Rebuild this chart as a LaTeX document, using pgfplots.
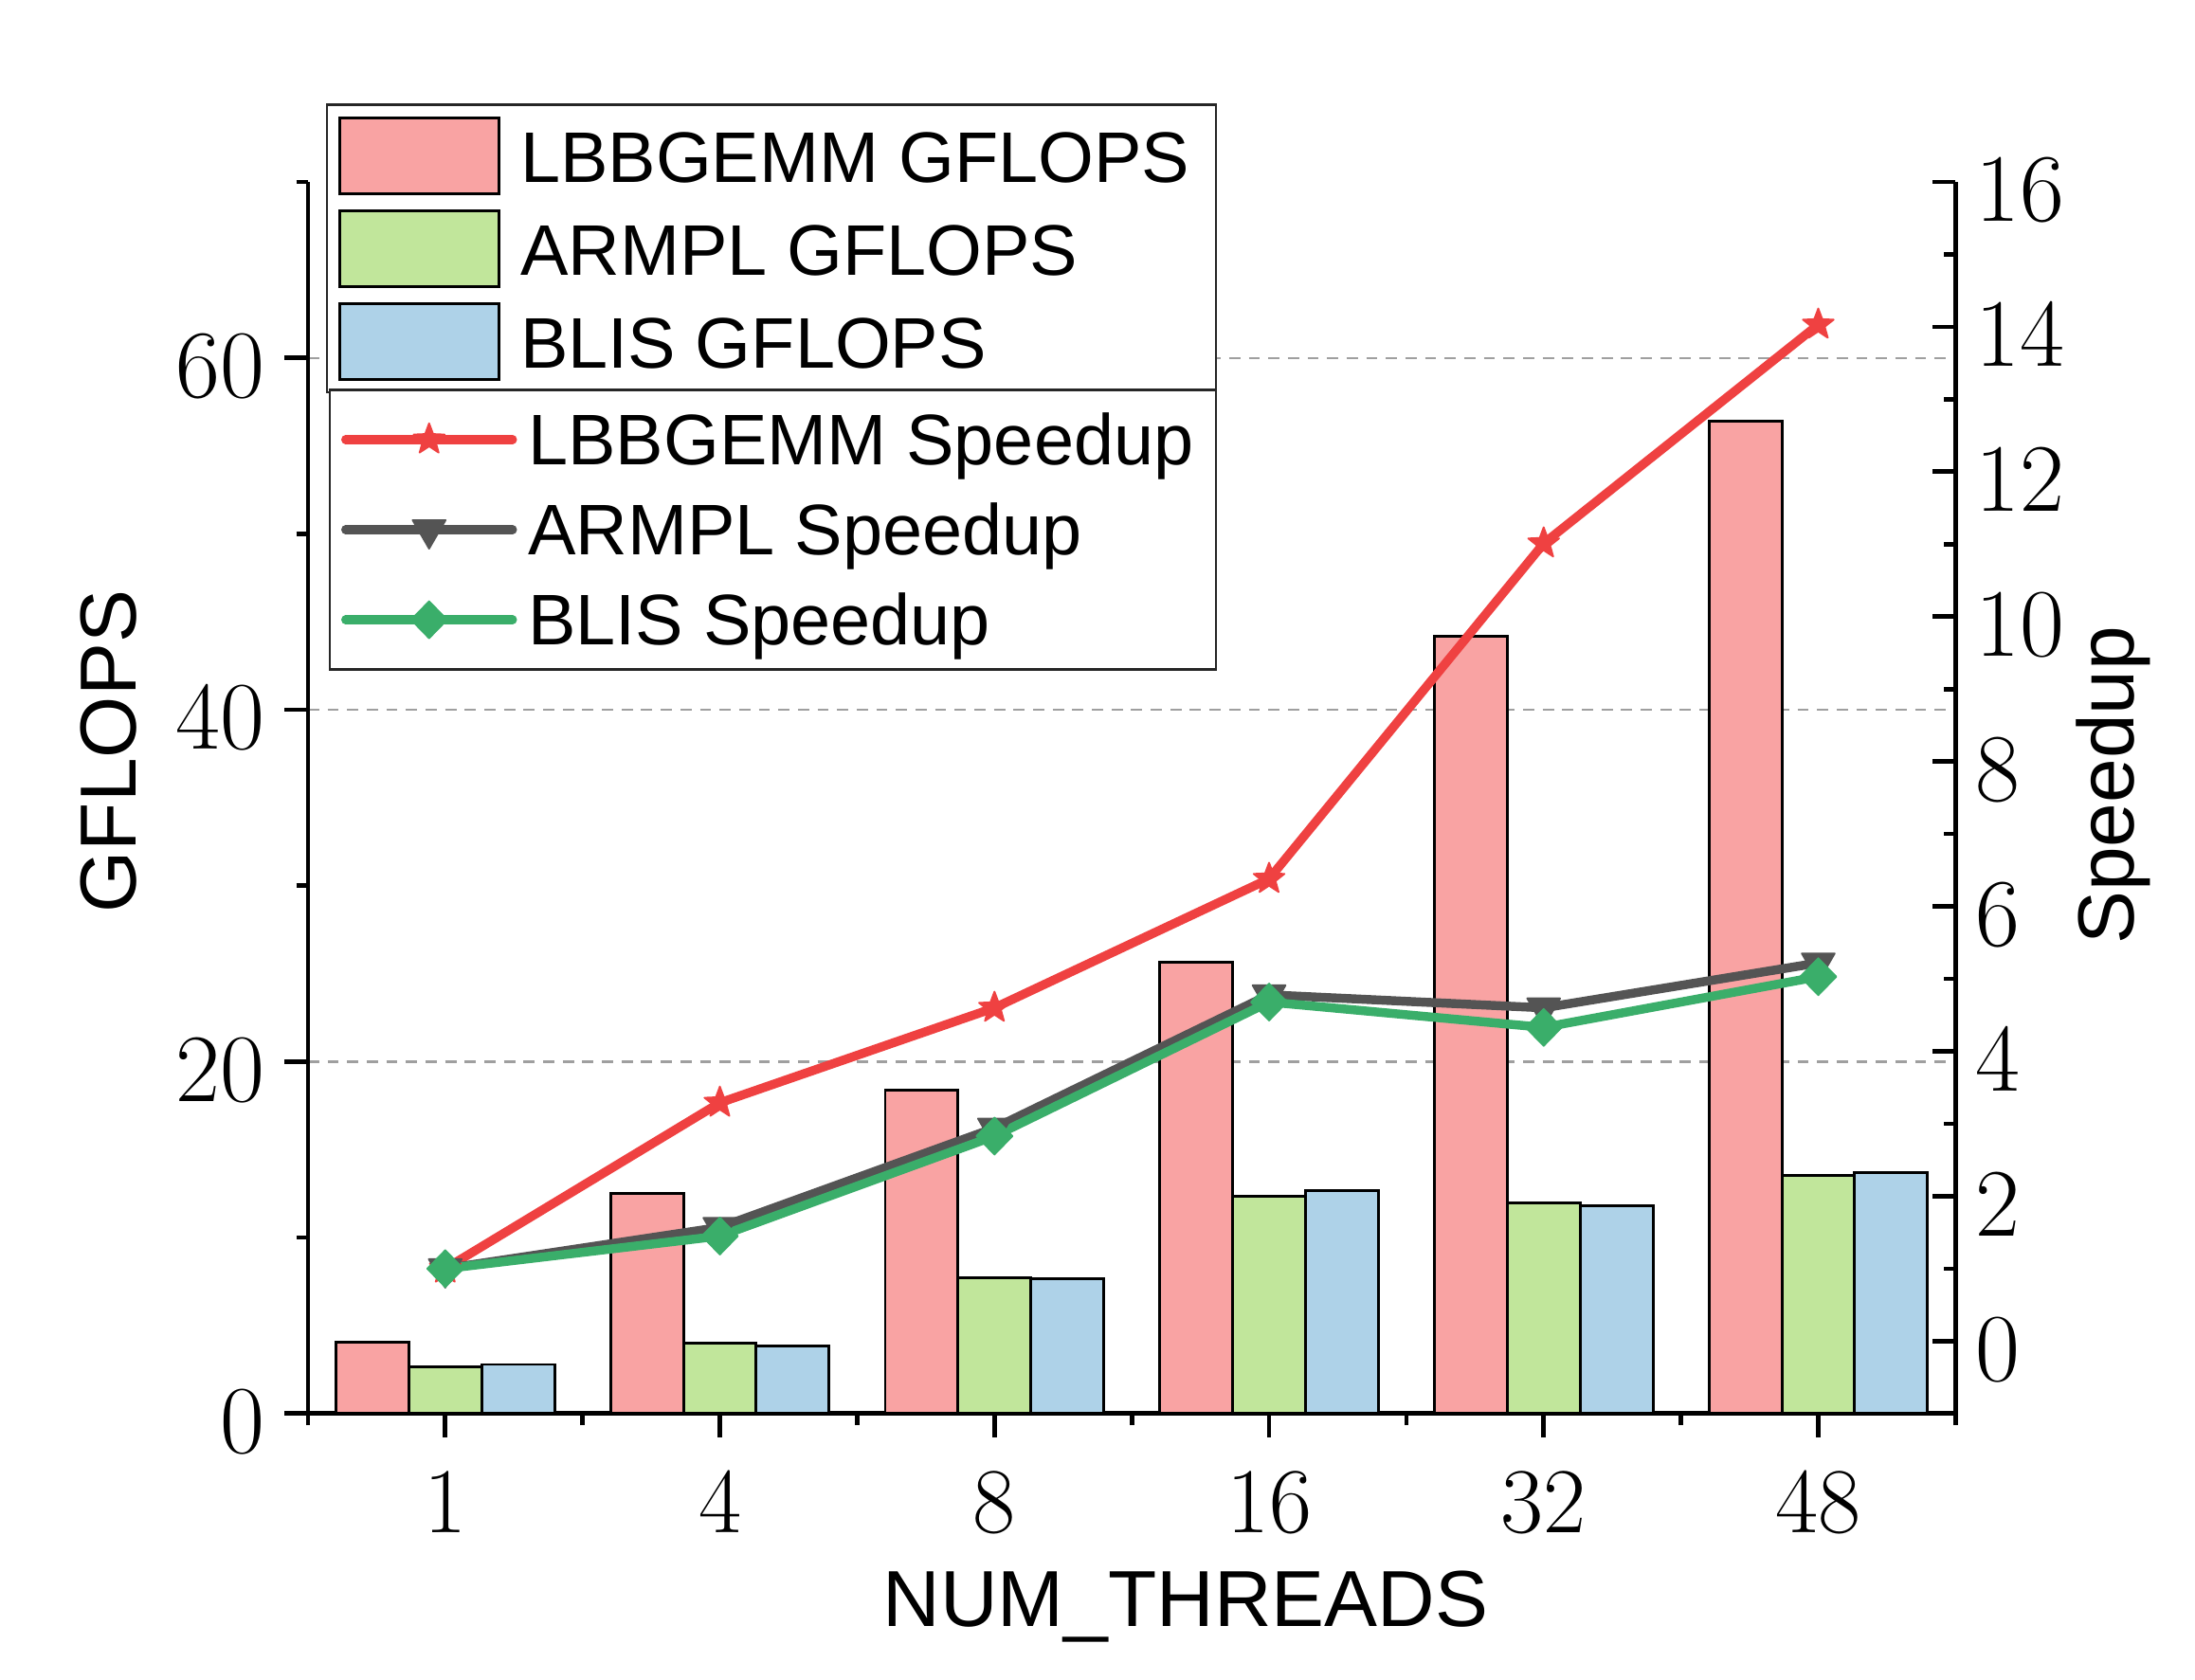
\documentclass[border=0pt]{standalone}
\usepackage{fontspec}
\setsansfont{Liberation Sans}
\usepackage{pgfplots}
\usepackage{pgfplotstable}
\pgfplotsset{compat=1.18}
\definecolor{barred}{HTML}{F9A3A3}
\definecolor{bargreen}{HTML}{C1E69B}
\definecolor{barblue}{HTML}{AED2E8}
\definecolor{linered}{HTML}{EF4141}
\definecolor{linegray}{HTML}{545454}
\definecolor{linegreen}{HTML}{3AAE6A}

\pgfdeclareplotmark{fstar}{%
  \pgfpathmoveto{\pgfpointpolar{90}{\pgfplotmarksize}}%
  \pgfpathlineto{\pgfpointpolar{126}{0.42\pgfplotmarksize}}%
  \pgfpathlineto{\pgfpointpolar{162}{\pgfplotmarksize}}%
  \pgfpathlineto{\pgfpointpolar{198}{0.42\pgfplotmarksize}}%
  \pgfpathlineto{\pgfpointpolar{234}{\pgfplotmarksize}}%
  \pgfpathlineto{\pgfpointpolar{270}{0.42\pgfplotmarksize}}%
  \pgfpathlineto{\pgfpointpolar{306}{\pgfplotmarksize}}%
  \pgfpathlineto{\pgfpointpolar{342}{0.42\pgfplotmarksize}}%
  \pgfpathlineto{\pgfpointpolar{18}{\pgfplotmarksize}}%
  \pgfpathlineto{\pgfpointpolar{54}{0.42\pgfplotmarksize}}%
  \pgfpathclose
  \pgfusepathqfillstroke
}

\pgfplotstableread{
x red green blue
0 4.06 2.63 2.79
1 12.5 3.98 3.82
2 18.4 7.73 7.65
3 25.66 12.35 12.67
4 44.2 11.95 11.8
5 56.4 13.55 13.7
}\bars

\pgfplotstableread{
x lbb armpl blis
0 1.00 1.00 1.00
1 3.29 1.57 1.45
2 4.60 2.94 2.83
3 6.38 4.78 4.68
4 11.01 4.60 4.33
5 14.03 5.22 5.03
}\speed

\pgfplotsset{
  common/.style={
    scale only axis, width=294.25pt, height=220pt,
    at={(0,0)}, anchor=south west,
    xmin=-0.5, xmax=5.5,
    tick label style={font=\fontsize{16.6}{16.6}\selectfont},
    yticklabel style={yshift=-1.5pt},
    xticklabel style={yshift=-2.5pt},
    label style={font=\sffamily\fontsize{14.2}{14.2}\selectfont},
    axis line style={line width=0.8pt, -},
    major tick length=4.2pt, minor tick length=2.1pt,
    every tick/.style={black, line width=0.8pt},
    legend cell align=left,
    legend style={font=\sffamily\fontsize{12.8}{12.8}\selectfont,
      draw=black!85, line width=0.4pt, fill=white,
      inner xsep=2pt, inner ysep=2.1pt, row sep=2.6pt},
  },
  barleg/.style={legend image code/.code={\draw[##1, line width=0.5pt] (0pt,-6.75pt) rectangle (28.5pt,6.75pt);}},
  lineleg/.style={legend image code/.code={\draw[##1, line cap=round, mark repeat=2, mark phase=2] plot coordinates {(0pt,0pt) (14.9pt,0pt) (29.8pt,0pt)};}},
}

\begin{document}
\begin{tikzpicture}
\useasboundingbox (-55pt,-47.5pt) rectangle (337pt,252.5pt);
\begin{axis}[common,
  axis x line*=bottom, axis y line*=left,
  xtick pos=bottom, ytick pos=left,
  tick align=outside,
  ymin=0, ymax=70,
  xtick={0,1,2,3,4,5}, xticklabels={1,4,8,16,32,48},
  minor xtick={-0.5,0.5,1.5,2.5,3.5,4.5,5.5},
  ytick={0,20,40,60}, minor ytick={10,30,50,70},
  ymajorgrids,
  major grid style={gray!75, line width=0.4pt, dash pattern=on 2pt off 1.5pt},
  xlabel={NUM\_THREADS}, ylabel={GFLOPS},
  xlabel style={at={(axis description cs:0.5327,-0.157)}, anchor=center},
  ylabel style={at={(axis description cs:-0.1207,0.5375)}, anchor=center},
  legend style={at={(0.011,1.0636)}, anchor=north west,
    nodes={inner sep=0pt, text height=11.5pt, text depth=2pt},
    /tikz/every odd column/.style={column sep=3.5pt}},
]
\addplot[ybar, bar width=0.2653, bar shift=-0.2653, fill=barred, draw=black, line width=0.5pt, barleg] table[x=x,y=red] {\bars};
\addlegendentry{LBBGEMM GFLOPS\rule{2.75pt}{0pt}}
\addplot[ybar, bar width=0.2653, bar shift=0, fill=bargreen, draw=black, line width=0.5pt, barleg] table[x=x,y=green] {\bars};
\addlegendentry{ARMPL GFLOPS}
\addplot[ybar, bar width=0.2653, bar shift=0.2653, fill=barblue, draw=black, line width=0.5pt, barleg] table[x=x,y=blue] {\bars};
\addlegendentry{BLIS GFLOPS}
\end{axis}
\begin{axis}[common,
  axis x line=none, axis y line*=right,
  ytick pos=right, tick align=inside,
  ymin=-1, ymax=16,
  ytick={0,2,...,16}, minor ytick={-1,1,...,15},
  ylabel={Speedup},
  ylabel style={at={(axis description cs:1.096,0.510)}, anchor=center, rotate=0},
  legend style={at={(0.0127,0.832)}, anchor=north west,
    nodes={inner sep=0pt, text height=11.25pt, text depth=2.25pt},
    /tikz/every odd column/.style={column sep=2pt}},
]
\addplot[linered, line width=1.6pt, line join=round, mark=fstar, mark size=2.9pt, mark options={line width=0.3pt, fill=linered}, lineleg] table[x=x,y=lbb] {\speed};
\addlegendentry{LBBGEMM Speedup\rule{2pt}{0pt}}
\addplot[linegray, line width=1.6pt, line join=round, mark=triangle*, mark size=3.4pt, mark options={rotate=180, line width=0.3pt, fill=linegray}, lineleg] table[x=x,y=armpl] {\speed};
\addlegendentry{ARMPL Speedup}
\addplot[linegreen, line width=1.6pt, line join=round, mark=diamond*, mark size=3.3pt, mark options={xscale=1.3, line width=0.3pt, fill=linegreen}, lineleg] table[x=x,y=blis] {\speed};
\addlegendentry{BLIS Speedup}
\end{axis}
\end{tikzpicture}
\end{document}
